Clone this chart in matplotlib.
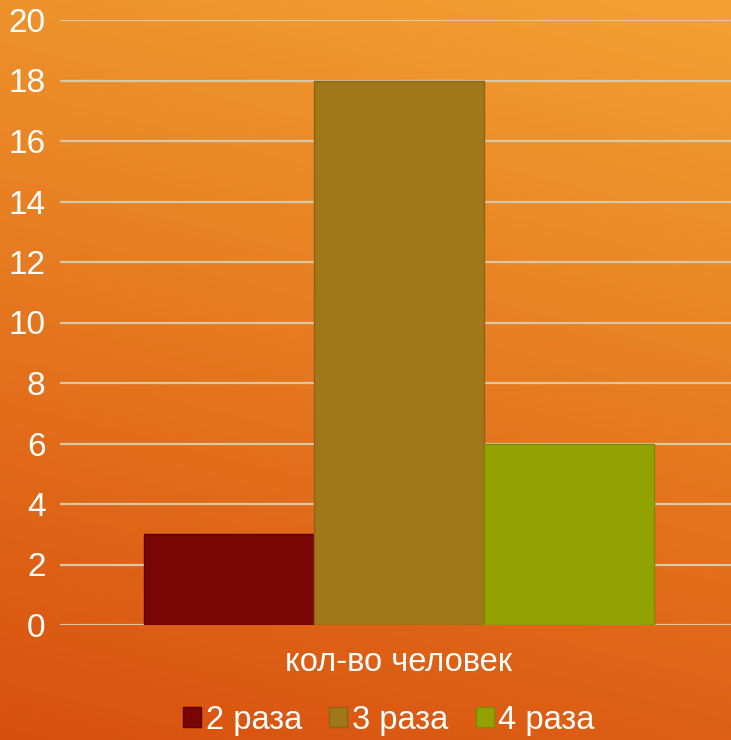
import numpy as np
import matplotlib
matplotlib.use("Agg")
import matplotlib.pyplot as plt
from matplotlib.patches import Patch

plt.rcParams['font.family'] = ['Liberation Sans', 'DejaVu Sans']

category = "кол-во человек"
series = ["2 раза", "3 раза", "4 раза"]
values = [3, 18, 6]
colors = ["#7A0505", "#A0781A", "#92A202"]
edges = ["#5E0303", "#8A6614", "#7C8A02"]
yticks = [0, 2, 4, 6, 8, 10, 12, 14, 16, 18, 20]

W, H = 731, 740
fig = plt.figure(figsize=(W/100, H/100), dpi=100)

# background gradient
bg = fig.add_axes([0, 0, 1, 1], zorder=-10)
yy, xx = np.mgrid[0:1:200j, 0:1:200j]
t = 0.8 * yy + 0.2 * xx
t = (t - t.min()) / (t.max() - t.min())
c0 = np.array([0xD8, 0x50, 0x0E]) / 255
c1 = np.array([0xF3, 0xA2, 0x32]) / 255
img = c0[None, None, :] * (1 - t[..., None]) + c1[None, None, :] * t[..., None]
bg.imshow(img, origin='lower', extent=[0, 1, 0, 1], aspect='auto')
bg.axis('off')

left, right = 60 / W, 1.0
bottom, top = 1 - 625 / H, 1 - 20 / H
ax = fig.add_axes([left, bottom, right - left, top - bottom])
ax.set_facecolor('none')

xs = [-1, 0, 1]
for x, v, c, e in zip(xs, values, colors, edges):
    ax.bar(x, v, width=1.0, color=c, edgecolor=e, linewidth=1, zorder=3)

ax.set_xlim(-1.994, 1.953)
ax.set_ylim(0, 20)
ax.set_yticks(yticks)
ax.set_yticklabels([str(v) for v in yticks], color='white', fontsize=24)
ax.tick_params(axis='y', length=0, pad=10.5)
ax.set_xticks([0])
ax.set_xticklabels([category], color='white', fontsize=23.5)
ax.tick_params(axis='x', length=0, pad=16)
ax.grid(axis='y', color='#D8C8A4', linewidth=1.6, zorder=1)
for s in ax.spines.values():
    s.set_visible(False)

handles = [Patch(facecolor=c, edgecolor=e, label=s) for c, e, s in zip(colors, edges, series)]
leg = fig.legend(handles=handles, loc='center', bbox_to_anchor=(389 / W, 1 - 720 / H),
                 ncol=3, frameon=False, fontsize=23.5, handlelength=0.55, handleheight=0.55,
                 handletextpad=0.15, columnspacing=0.83, labelcolor='white')

fig.savefig('out.png', dpi=100)
